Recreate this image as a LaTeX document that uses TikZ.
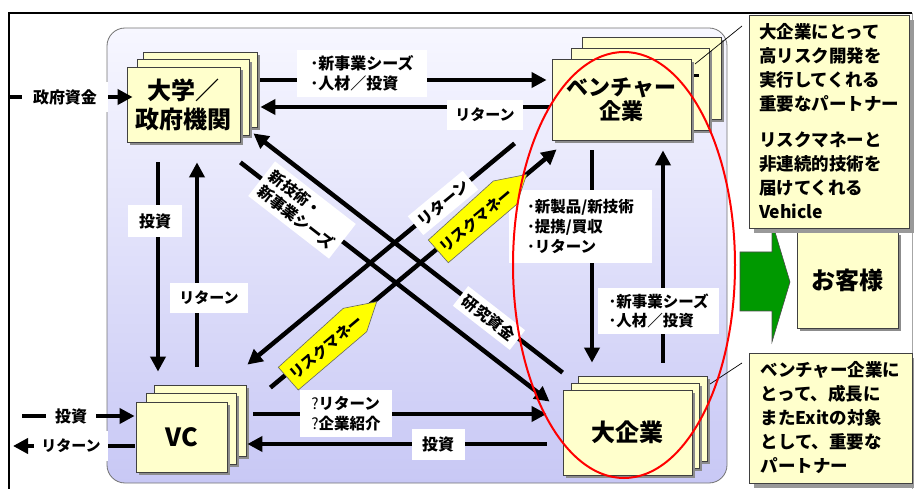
\documentclass[tikz,border=0pt]{standalone}
\usepackage{fontspec}
\setmainfont{Noto Sans CJK JP}
\usetikzlibrary{arrows.meta,shadows,calc}
\definecolor{boxy}{HTML}{FFFFCC}
\definecolor{bgtop}{HTML}{F7F7FF}
\definecolor{bgbot}{HTML}{C8C8F5}
\definecolor{grn}{HTML}{009900}
\definecolor{risky}{HTML}{FFFF00}
\begin{document}
\begin{tikzpicture}[x=1pt,y=-1pt,
  ybox/.style={draw=black!75, line width=0.8pt, fill=boxy,
    drop shadow={shadow xshift=3pt,shadow yshift=-3pt,fill=black!45,opacity=1},
    font=\bfseries, align=center, inner sep=0pt},
  backbox/.style={ybox},
  arr/.style={line width=4.5pt, -{Triangle[length=15pt,width=15pt]}},
  lbl/.style={fill=white, inner sep=0pt, font=\bfseries\fontsize{16}{20}\selectfont, align=left},
  rlbl/.style={fill=white, inner sep=5pt, font=\bfseries\fontsize{15.5}{19}\selectfont, align=left},
  callout/.style={draw=black!75, fill=boxy, line width=0.8pt,
    drop shadow={shadow xshift=5pt,shadow yshift=-5pt,fill=black!40,opacity=1},
    font=\bfseries\fontsize{17.5}{24}\selectfont, align=left, inner sep=0pt},
  riskshape/.style={draw=black!60, line width=0.6pt, fill=risky},
  risktext/.style={font=\bfseries\fontsize{15}{16}\selectfont, inner sep=0pt},
  leader/.style={draw=black, line width=0.7pt}
]
\useasboundingbox (0,0) rectangle (914,489);
% outer frame
\draw[black, line width=1.5pt] (9,489) -- (9,13) -- (912,13);
\draw[black!35, line width=0.6pt] (912.5,13) -- (912.5,489);
% background panel
\shade[top color=bgtop, bottom color=bgbot, rounded corners=18pt] (107,28) rectangle (727,483);
\draw[black!55, line width=0.8pt, rounded corners=18pt] (107,28) rectangle (727,483);

% nodes (stacked boxes)
\node[backbox, minimum width=114pt, minimum height=75pt] (daigakuC) at (200,89.5) {};
\node[backbox, minimum width=112pt, minimum height=76pt] (daigakuB) at (193,97) {};
\node[ybox, minimum width=113pt, minimum height=75pt, font=\bfseries\fontsize{24}{29}\selectfont] (daigaku) at (183.5,104.5) {大学／\\政府機関};

\node[backbox, minimum width=139pt, minimum height=82pt] (ventureC) at (651.5,78) {};
\node[backbox, minimum width=138pt, minimum height=82pt] (ventureB) at (640,89) {};
\fill (693,74) rectangle (699,77.5);
\node[ybox, minimum width=139pt, minimum height=81pt, font=\bfseries\fontsize{22}{24}\selectfont] (venture) at (621.5,99.5) {ベンチャー\\企業};

\node[backbox, minimum width=92pt, minimum height=71pt] (vcC) at (200,420.5) {};
\node[backbox, minimum width=90pt, minimum height=71pt] (vcB) at (191,428.5) {};
\node[ybox, minimum width=91pt, minimum height=70pt, font=\bfseries\fontsize{25}{28}\selectfont] (vc) at (181.5,437) {VC};

\node[backbox, minimum width=129pt, minimum height=85pt] (daiC) at (642.5,418.5) {};
\node[backbox, minimum width=128pt, minimum height=85pt] (daiB) at (635,425.5) {};
\node[ybox, minimum width=129pt, minimum height=85pt, font=\bfseries\fontsize{24}{28}\selectfont] (dai) at (627.5,432.5) {大企業};

% free ends
\coordinate (gov) at (10,97);
\coordinate (invin) at (22,416);
\coordinate (retout) at (13,446);

% connectors
\draw[arr] ($(daigakuC.east)+(3,-9.5)$) -- ($(venture.west)+(-5,-19.5)$);
\draw[arr] ($(venture.west)+(-2,7.5)$) -- ($(daigakuC.east)+(3,17.5)$);
\draw[arr] (gov) -- ($(daigaku.west)+(6,-7.5)$);
\draw[arr] ($(daigaku.south)+(-25.5,20)$) -- ($(vcC.north)+(-42,-13)$);
\draw[arr] ($(vcC.north)+(-3,-18)$) -- ($(daigaku.south)+(13.5,20)$);
\draw[arr] (invin) -- ($(vc.west)+(-1,-21)$);
\draw[arr] ($(vc.west)+(-1,9)$) -- (retout);
\draw[arr] ($(vcC.east)+(7,-6.5)$) -- ($(dai.west)+(-16,-18.5)$);
\draw[arr] ($(dai.west)+(-16,11.5)$) -- ($(vcC.east)+(1,23.5)$);
\draw[arr] ($(venture.south)+(-29.5,10)$) -- ($(daiC.north)+(-50.5,-13)$);
\draw[arr] ($(daiC.north)+(20.5,-13)$) -- ($(venture.south)+(41.5,10)$);
\draw[arr] ($(daigaku.south east)+(0,20)$) -- ($(dai.north west)+(-13,12)$);
\draw[arr] ($(daiC.north west)+(-15,-3)$) -- ($(daigakuB.south east)+(4,-2)$);
\draw[arr] ($(venture.south west)+(-37,3)$) -- ($(vcC.north east)+(1,-20)$);
\draw[arr] ($(vcC.north east)+(24,3)$) -- ($(venture.south west)+(5,9)$);

% labels
\node[lbl, minimum width=130pt, minimum height=47pt] (l1) at (362,73.5) {･新事業シーズ\\･人材／投資};
\node[lbl, minimum width=76pt, minimum height=30pt, font=\bfseries\fontsize{15}{18}\selectfont] (l2) at (485,115) {リターン};
\node[lbl, minimum width=86pt, minimum height=30pt] (l3) at (65,97) {政府資金};
\node[lbl, minimum width=54pt, minimum height=32pt] (l4) at (155,221) {投資};
\node[lbl, minimum width=78pt, minimum height=30pt, font=\bfseries\fontsize{15}{18}\selectfont] (l5) at (209,298) {リターン};
\node[lbl, minimum width=50pt, minimum height=28pt] (l6) at (71,416) {投資};
\node[lbl, minimum width=74pt, minimum height=30pt, font=\bfseries\fontsize{15}{18}\selectfont] (l7) at (71,446) {リターン};
\node[lbl, minimum width=92pt, minimum height=47pt, font=\bfseries\fontsize{15.5}{20}\selectfont] (l8) at (346,413.5) {{\mdseries ?}リターン\\{\mdseries ?}企業紹介};
\node[lbl, minimum width=53pt, minimum height=31pt] (l9) at (438,444.5) {投資};
\node[lbl, minimum width=143pt, minimum height=73pt, font=\bfseries\fontsize{15.5}{20}\selectfont] (l10) at (580.5,226.5) {･新製品/新技術\\･提携/買収\\･リターン};
\node[lbl, minimum width=121pt, minimum height=46pt, font=\bfseries\fontsize{15.5}{19}\selectfont] (l11) at (658.5,311) {･新事業シーズ\\･人材／投資};
\node[rlbl, rotate=-37.8] (l12) at (302,210) {新技術・\\新事業シーズ};
\node[rlbl, rotate=-37.8] (l13) at (489,318) {研究資金};
\node[rlbl, rotate=39.6] (l14) at (443,203) {リターン};

% risk money tags
\draw[riskshape] (278.3,367.3) -- (298.3,390) -- (366.7,331.7) -- (376.7,301.7) -- (343.3,308.3) -- cycle;
\draw[riskshape, shift={(150,-127.3)}] (278.3,367.3) -- (298.3,390) -- (366.7,331.7) -- (376.7,301.7) -- (343.3,308.3) -- cycle;
\node[risktext, rotate=40] (r1) at (326,347) {リスクマネー};
\node[risktext, rotate=40] (r2) at (476,220) {リスクマネー};

% leader lines
\draw[leader] (742,26) -- (695,64);
\draw[leader] (742,363) -- (710,384);

% red ellipse
\draw[red, line width=2pt] (624,265) ellipse [x radius=111, y radius=213];

% green arrow and customer
\draw[fill=grn, draw=black!70, line width=0.6pt] (740,252) -- (772,252) -- (772,222) -- (790,282) -- (772,342) -- (772,311) -- (740,311) -- cycle;
\node[ybox, minimum width=101pt, minimum height=96pt, font=\bfseries\fontsize{24}{28}\selectfont] (kyaku) at (847.5,280) {お客様};

% callouts
\node[callout, minimum width=160pt, minimum height=213pt] (c1) at (829,121.5) {大企業にとって\\高リスク開発を\\実行してくれる\\重要なパートナー\\[12pt]リスクマネーと\\非連続的技術を\\届けてくれる\\Vehicle};
\node[callout, minimum width=163pt, minimum height=130pt] (c2) at (830.5,418) {ベンチャー企業に\\とって、成長に\\またExitの対象\\として、重要な\\パートナー};
\end{tikzpicture}
\end{document}
